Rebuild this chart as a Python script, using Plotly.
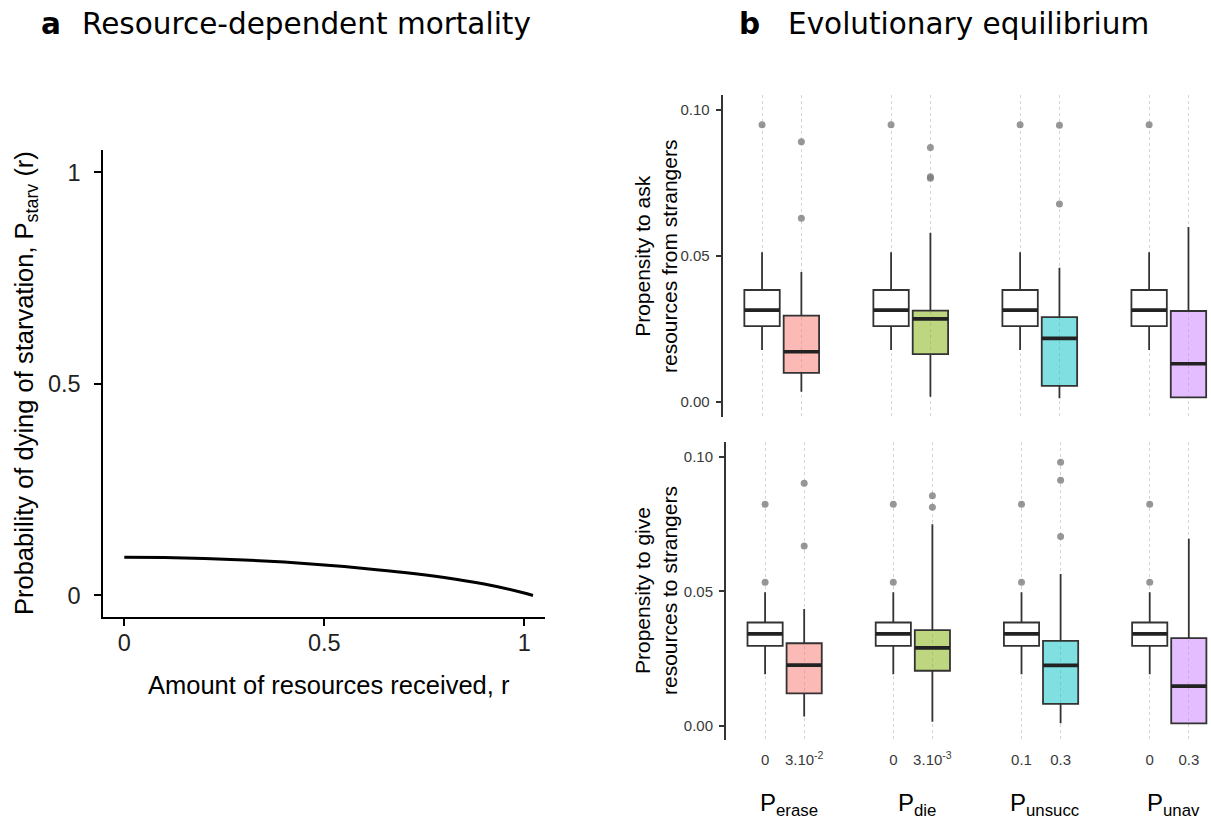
import plotly.graph_objects as go

# ---------------- data ----------------
# Panel a: resource-dependent starvation probability
r_received = [0.0, 0.1, 0.2, 0.3, 0.4, 0.5, 0.6, 0.7, 0.8, 0.9, 1.0, 1.022]
p_starv = [0.0905, 0.0897, 0.0875, 0.0840, 0.0790, 0.0722, 0.0640, 0.0545,
           0.0425, 0.0270, 0.0060, 0.0]

# Panel b: evolved propensities, two settings per parameter
group_labels = ["P<sub>erase</sub>", "P<sub>die</sub>", "P<sub>unsucc</sub>", "P<sub>unav</sub>"]
tick_labels = ["0", "3.10<sup>-2</sup>", "0", "3.10<sup>-3</sup>", "0.1", "0.3", "0", "0.3"]
box_colors = ["white", "rgba(248,118,109,0.5)", "white", "rgba(124,174,0,0.5)",
              "white", "rgba(0,191,196,0.5)", "white", "rgba(199,124,255,0.5)"]

# propensity to ask resources from strangers
ask_low = [0.0177, 0.0034, 0.0177, 0.0017, 0.0177, 0.0012, 0.0177, 0.0012]
ask_q1 = [0.0259, 0.0099, 0.0259, 0.0163, 0.0259, 0.0054, 0.0259, 0.0015]
ask_med = [0.0314, 0.0171, 0.0314, 0.0284, 0.0314, 0.0217, 0.0314, 0.0130]
ask_q3 = [0.0383, 0.0295, 0.0383, 0.0312, 0.0383, 0.0290, 0.0383, 0.0311]
ask_high = [0.0512, 0.0445, 0.0512, 0.0579, 0.0512, 0.0459, 0.0512, 0.0599]
ask_out = [[0.0949], [0.0891, 0.0629], [0.0949], [0.0871, 0.0771, 0.0766],
           [0.0949], [0.0948, 0.0678], [0.0949], []]

# propensity to give resources to strangers
give_low = [0.0192, 0.0035, 0.0192, 0.0016, 0.0192, 0.0010, 0.0192, 0.0010]
give_q1 = [0.0297, 0.0121, 0.0297, 0.0205, 0.0297, 0.0082, 0.0297, 0.0010]
give_med = [0.0342, 0.0226, 0.0342, 0.0290, 0.0342, 0.0225, 0.0342, 0.0148]
give_q3 = [0.0384, 0.0307, 0.0384, 0.0356, 0.0384, 0.0316, 0.0384, 0.0326]
give_high = [0.0496, 0.0434, 0.0496, 0.0749, 0.0496, 0.0564, 0.0496, 0.0695]
give_out = [[0.0823, 0.0533], [0.0901, 0.0668], [0.0823, 0.0533], [0.0854, 0.0812],
            [0.0823, 0.0533], [0.0979, 0.0912, 0.0703], [0.0823, 0.0533], []]

# ---------------- layout helpers ----------------
W, H = 1211, 825
GROUP_STEP = 3.28
BOX_W = 0.9
positions = [g * GROUP_STEP + k for g in range(4) for k in range(2)]
group_centers = [g * GROUP_STEP + 0.5 for g in range(4)]


def fx(px):
    return px / W


def fy(py):
    return 1 - py / H


fig = go.Figure()

# ---- panel a ----
fig.add_trace(go.Scatter(
    x=r_received, y=p_starv, mode="lines",
    line=dict(color="black", width=3, shape="spline", smoothing=0.8),
    xaxis="x", yaxis="y", hoverinfo="skip"))


# ---- panel b ----
def add_boxes(xa, ya, low, q1, med, q3, high, outs):
    for i, pos in enumerate(positions):
        fig.add_trace(go.Box(
            x=[pos], q1=[q1[i]], median=[med[i]], q3=[q3[i]],
            lowerfence=[low[i]], upperfence=[high[i]],
            width=BOX_W, whiskerwidth=0, fillcolor=box_colors[i],
            line=dict(color="#333333", width=1.8), boxpoints=False,
            xaxis=xa, yaxis=ya, hoverinfo="skip"))
    # thicker median bars
    mx, my = [], []
    for i, pos in enumerate(positions):
        mx += [pos - BOX_W / 2, pos + BOX_W / 2, None]
        my += [med[i], med[i], None]
    fig.add_trace(go.Scatter(x=mx, y=my, mode="lines",
                             line=dict(color="#222222", width=3.6),
                             xaxis=xa, yaxis=ya, hoverinfo="skip"))
    # outliers
    ox, oy = [], []
    for i, pos in enumerate(positions):
        for v in outs[i]:
            ox.append(pos)
            oy.append(v)
    fig.add_trace(go.Scatter(x=ox, y=oy, mode="markers",
                             marker=dict(color="rgba(125,125,125,0.8)", size=7),
                             xaxis=xa, yaxis=ya, hoverinfo="skip"))


add_boxes("x2", "y2", ask_low, ask_q1, ask_med, ask_q3, ask_high, ask_out)
add_boxes("x3", "y3", give_low, give_q1, give_med, give_q3, give_high, give_out)

AX_FONT = "Liberation Sans, Arial, sans-serif"
TITLE_FONT = "DejaVu Sans, sans-serif"

yb = dict(showline=True, linecolor="#333333", linewidth=2, ticks="outside", ticklen=5,
          tickwidth=1.5, tickcolor="#333333", tickvals=[0, 0.05, 0.1],
          ticktext=["0.00", "0.05", "0.10"], tickfont=dict(family=AX_FONT, size=15, color="#3a3a3a"),
          showgrid=False, zeroline=False, ticklabelstandoff=3)
xb = dict(range=[-1.0, 11.4], tickvals=positions, showgrid=True, gridcolor="#d4d4d4",
          griddash="dot", gridwidth=1, zeroline=False, showline=False, ticks="")

fig.update_layout(
    width=W, height=H, margin=dict(l=0, r=0, t=0, b=0),
    paper_bgcolor="white", plot_bgcolor="white", showlegend=False,
    xaxis=dict(domain=[fx(103.3), fx(544.6)], range=[-0.0525, 1.051], anchor="y",
               showline=True, linecolor="black", linewidth=2, ticks="outside", ticklen=7,
               tickwidth=2, tickcolor="black", tickvals=[0, 0.5, 1], ticktext=["0", "0.5", "1"],
               tickfont=dict(family=AX_FONT, size=23.5, color="#222222"),
               showgrid=False, zeroline=False, ticklabelstandoff=-3),
    yaxis=dict(domain=[fy(616.5), fy(150)], range=[-0.0497, 1.0528], anchor="x",
               showline=True, linecolor="black", linewidth=2, ticks="outside", ticklen=7,
               tickwidth=2, tickcolor="black", tickvals=[0, 0.5, 1], ticktext=["0", "0.5", "1"],
               tickfont=dict(family=AX_FONT, size=23.5, color="#222222"),
               showgrid=False, zeroline=False, ticklabelstandoff=9),
    xaxis2=dict(domain=[fx(722.7), fx(1210.5)], anchor="y2", showticklabels=False, **xb),
    yaxis2=dict(domain=[fy(416.7), fy(95)], range=[-0.00514, 0.10514], anchor="x2", **yb),
    xaxis3=dict(domain=[fx(726), fx(1210.7)], anchor="y3", ticktext=tick_labels,
                tickfont=dict(family=AX_FONT, size=15, color="#3a3a3a"),
                ticklabelstandoff=9, **xb),
    yaxis3=dict(domain=[fy(740), fy(441.7)], range=[-0.0052, 0.1055], anchor="x3", **yb),
)

ann = []
# panel titles
TS = 29.5
ann.append(dict(x=fx(39), y=fy(24), xref="paper", yref="paper", xanchor="left", yanchor="middle",
                text="<b>a</b>", showarrow=False, font=dict(family=TITLE_FONT, size=TS, color="black")))
ann.append(dict(x=fx(80), y=fy(24), xref="paper", yref="paper", xanchor="left", yanchor="middle",
                text="Resource-dependent mortality", showarrow=False,
                font=dict(family=TITLE_FONT, size=TS, color="black")))
ann.append(dict(x=fx(737), y=fy(24), xref="paper", yref="paper", xanchor="left", yanchor="middle",
                text="<b>b</b>", showarrow=False, font=dict(family=TITLE_FONT, size=TS, color="black")))
ann.append(dict(x=fx(786), y=fy(24), xref="paper", yref="paper", xanchor="left", yanchor="middle",
                text="Evolutionary equilibrium", showarrow=False,
                font=dict(family=TITLE_FONT, size=TS, color="black")))
# panel a axis titles
ann.append(dict(x=fx(329), y=fy(685), xref="paper", yref="paper", xanchor="center", yanchor="middle",
                text="Amount of resources received, r", showarrow=False,
                font=dict(family=AX_FONT, size=25.5, color="black")))
ann.append(dict(x=fx(26), y=fy(383), xref="paper", yref="paper", xanchor="center", yanchor="middle",
                text="Probability of dying of starvation, P<sub>starv</sub> (r)", textangle=-90,
                showarrow=False, font=dict(family=AX_FONT, size=25.5, color="black")))
# panel b axis titles
ann.append(dict(x=fx(656), y=fy(257), xref="paper", yref="paper", xanchor="center", yanchor="middle",
                text="Propensity to ask<br>resources from strangers", textangle=-90,
                showarrow=False, font=dict(family=AX_FONT, size=21, color="black")))
ann.append(dict(x=fx(656), y=fy(591), xref="paper", yref="paper", xanchor="center", yanchor="middle",
                text="Propensity to give<br>resources to strangers", textangle=-90,
                showarrow=False, font=dict(family=AX_FONT, size=21, color="black")))
# parameter names under each pair of boxes
for gc, lab in zip(group_centers, group_labels):
    ann.append(dict(x=gc + 0.1, y=fy(804), xref="x3", yref="paper", xanchor="center",
                    yanchor="middle", text=lab, showarrow=False,
                    font=dict(family=AX_FONT, size=24, color="black")))
fig.update_layout(annotations=ann)

fig.write_html("out.html")
